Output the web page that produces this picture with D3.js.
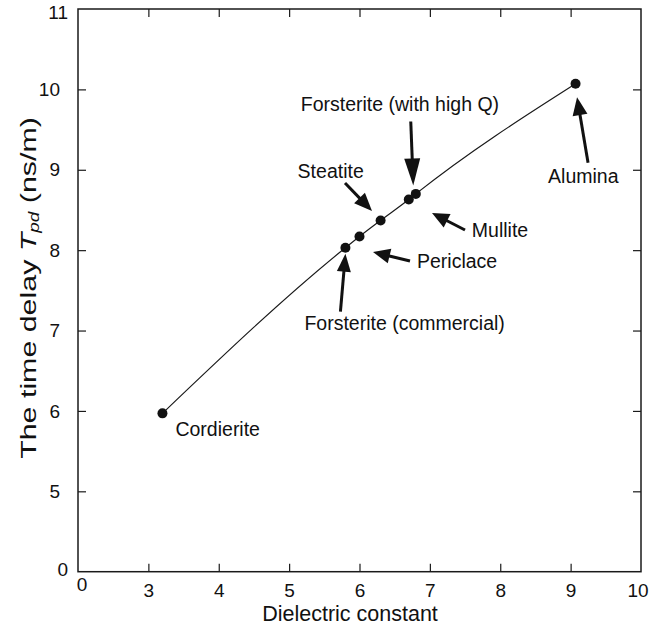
<!DOCTYPE html>
<html>
<head>
<meta charset="utf-8">
<script src="https://cdn.jsdelivr.net/npm/d3@7"></script>
<style>
  html, body { margin: 0; padding: 0; background: #fff; }
  svg { display: block; }
  text { font-family: Arial, "Liberation Sans", Helvetica, sans-serif; fill: #111; }
</style>
</head>
<body>
<svg id="chart" width="664" height="625"></svg>
<script>
// Ceramic substrates: dielectric constant vs. propagation delay
const materials = ["Cordierite", "Forsterite (commercial)", "Periclace", "Steatite",
                   "Forsterite (with high Q)", "Mullite", "Alumina"];
const dielectric = [3.2, 5.8, 6.0, 6.3, 6.7, 6.8, 9.07];
const timeDelay  = [5.97, 8.03, 8.17, 8.37, 8.63, 8.70, 10.07];

// Axis ticks (both axes are broken: the corner is labelled 0)
const xTicks = [3, 4, 5, 6, 7, 8, 9];
const yTicks = [5, 6, 7, 8, 9, 10];
const yTickLabels = ["5", "6", "7", "8", "9", "10"];

// Callout layout, in pixels relative to each material's point
const callouts = [
  { name: "Cordierite", text: [13, 23] },
  { name: "Forsterite (commercial)", text: [-41, 82], tail: [-5, 64], tip: [0, 6], head: [18, 14] },
  { name: "Periclace", text: [57.5, 32], tail: [50.5, 24.5], tip: [13.5, 15.5], head: [17, 15] },
  { name: "Steatite", text: [-83, -42], tail: [-35.6, -37.4], tip: [-8.6, -9.4], head: [18, 15] },
  { name: "Forsterite (with high Q)", text: [-108, -89], tail: [2, -78], tip: [4.5, -14], head: [27, 16] },
  { name: "Mullite", text: [56, 43.5], tail: [49.2, 36.1], tip: [16.2, 19.1], head: [17, 15] },
  { name: "Alumina", text: [-27.5, 99], tail: [12.5, 79], tip: [1.5, 13.5], head: [18, 15] }
];

const svg = d3.select("#chart");
const plot = { left: 78, right: 641, top: 9, bottom: 571.7 };

const x = d3.scaleLinear().domain([2, 10]).range([plot.left, plot.right]);
const y = d3.scaleLinear().domain([4, 11]).range([plot.bottom, plot.top]);

const ink = "#1a1a1a";
const tickLen = 8;
const tickFont = 19;

// Frame
svg.append("rect")
  .attr("x", plot.left).attr("y", plot.top)
  .attr("width", plot.right - plot.left).attr("height", plot.bottom - plot.top)
  .attr("fill", "none").attr("stroke", ink).attr("stroke-width", 1.5);

// Bottom and top axes, ticks pointing inwards
const xBottom = svg.append("g")
  .attr("transform", `translate(0,${plot.bottom})`)
  .call(d3.axisBottom(x).tickValues(xTicks).tickSizeInner(-tickLen).tickSizeOuter(0).tickPadding(12));
const xTop = svg.append("g")
  .attr("transform", `translate(0,${plot.top})`)
  .call(d3.axisTop(x).tickValues(xTicks).tickSizeInner(-tickLen).tickSizeOuter(0).tickFormat(""));

// Left and right axes
const yLeft = svg.append("g")
  .attr("transform", `translate(${plot.left},0)`)
  .call(d3.axisLeft(y).tickValues(yTicks).tickSizeInner(-tickLen).tickSizeOuter(0).tickPadding(18)
        .tickFormat((d, i) => yTickLabels[i]));
const yRight = svg.append("g")
  .attr("transform", `translate(${plot.right},0)`)
  .call(d3.axisRight(y).tickValues(yTicks).tickSizeInner(-tickLen).tickSizeOuter(0).tickFormat(""));

[xBottom, xTop, yLeft, yRight].forEach(g => {
  g.select(".domain").remove();
  g.selectAll(".tick line").attr("stroke", ink).attr("stroke-width", 1.2);
  g.selectAll(".tick text")
    .attr("font-size", tickFont)
    .attr("fill", "#111")
    .style("font-family", "Arial, 'Liberation Sans', sans-serif");
});

// Extra labels: 11 at the top of y, 10 at the right end of x
svg.append("text")
  .attr("x", plot.left - 10).attr("y", y(11) + 3).attr("dy", "0.36em")
  .attr("text-anchor", "end").attr("font-size", tickFont).text("11");
svg.append("text")
  .attr("x", x(10) - 3).attr("y", plot.bottom + 12).attr("dy", "0.71em")
  .attr("text-anchor", "middle").attr("font-size", tickFont).text("10");
// Broken-axis origin labels
svg.append("text")
  .attr("x", plot.left - 10).attr("y", plot.bottom - 3).attr("dy", "0.36em")
  .attr("text-anchor", "end").attr("font-size", tickFont).text("0");
svg.append("text")
  .attr("x", plot.left + 4).attr("y", plot.bottom + 6).attr("dy", "0.71em")
  .attr("text-anchor", "middle").attr("font-size", tickFont).text("0");

// Axis titles
svg.append("text")
  .attr("x", 350).attr("y", 621)
  .attr("text-anchor", "middle").attr("font-size", 21.5)
  .text("Dielectric constant");

const yTitle = svg.append("text")
  .attr("transform", `translate(36,288) rotate(-90) scale(1.35,1)`)
  .attr("text-anchor", "middle").attr("font-size", 22.5);
yTitle.append("tspan").text("The time delay ");
yTitle.append("tspan").attr("font-style", "italic").text("T");
yTitle.append("tspan").attr("font-style", "italic").attr("font-size", 14)
  .attr("baseline-shift", "-25%").text("pd");
yTitle.append("tspan").text(" (ns/m)");

// Data curve and points
const pts = dielectric.map((d, i) => ({ name: materials[i], x: d, y: timeDelay[i] }));

const line = d3.line()
  .x(d => x(d.x)).y(d => y(d.y))
  .curve(d3.curveMonotoneX);

svg.append("path")
  .datum(pts)
  .attr("d", line)
  .attr("fill", "none").attr("stroke", ink).attr("stroke-width", 1.2);

svg.append("g").selectAll("circle")
  .data(pts).join("circle")
  .attr("cx", d => x(d.x)).attr("cy", d => y(d.y))
  .attr("r", 5).attr("fill", "#111");

// Callouts with arrows
const byName = new Map(pts.map(p => [p.name, p]));
const notes = svg.append("g");

callouts.forEach(c => {
  const p = byName.get(c.name);
  const px = x(p.x), py = y(p.y);
  notes.append("text")
    .attr("x", px + c.text[0]).attr("y", py + c.text[1])
    .attr("font-size", 19.5).text(c.name);
  if (!c.tip) return;
  const tx = px + c.tip[0], ty = py + c.tip[1];
  const sx = px + c.tail[0], sy = py + c.tail[1];
  const ang = Math.atan2(ty - sy, tx - sx);
  const [hl, hw] = c.head;
  const bx = tx - hl * Math.cos(ang), by = ty - hl * Math.sin(ang);
  const nx = -Math.sin(ang) * hw / 2, ny = Math.cos(ang) * hw / 2;
  notes.append("line")
    .attr("x1", sx).attr("y1", sy).attr("x2", bx + (tx - bx) * 0.2).attr("y2", by + (ty - by) * 0.2)
    .attr("stroke", "#111").attr("stroke-width", 3);
  notes.append("path")
    .attr("d", `M${tx},${ty}L${bx + nx},${by + ny}L${bx - nx},${by - ny}Z`)
    .attr("fill", "#111");
});
</script>
</body>
</html>
